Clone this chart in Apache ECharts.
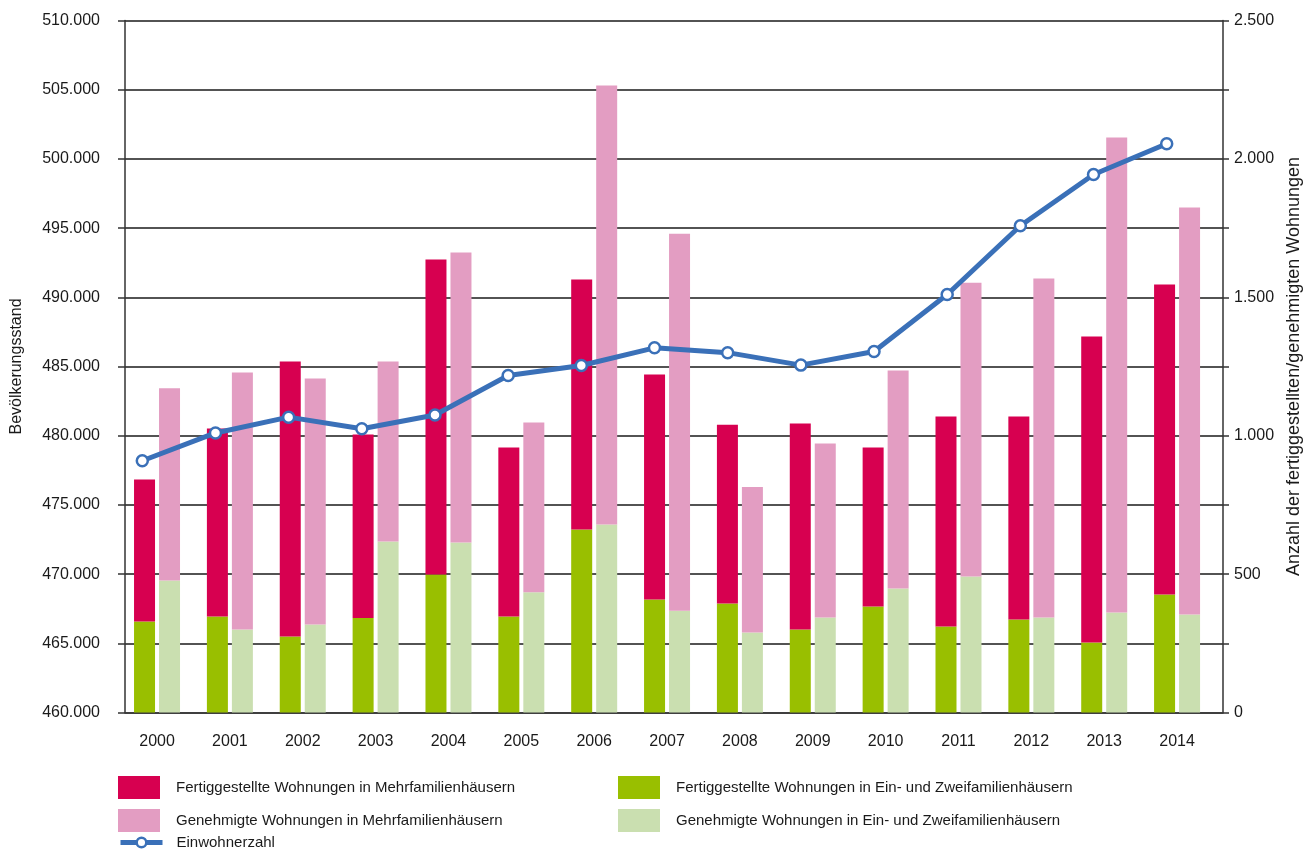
<!DOCTYPE html>
<html>
<head>
<meta charset="utf-8">
<script src="https://cdn.jsdelivr.net/npm/echarts@6/dist/echarts.min.js"></script>
<style>
  html, body { margin: 0; padding: 0; background: #fff; }
  #chart { width: 1306px; height: 857px; }
</style>
</head>
<body>
<div id="chart"></div>
<script>
// Jahre
const years = ['2000','2001','2002','2003','2004','2005','2006','2007','2008','2009','2010','2011','2012','2013','2014'];

// Fertiggestellte Wohnungen
const fertEZFH = [329, 347, 275, 341, 499, 347, 661, 408, 394, 300, 383, 311, 336, 253, 426];
const fertMFH  = [513, 679, 993, 663, 1138, 610, 903, 813, 646, 744, 574, 758, 733, 1105, 1120];

// Genehmigte Wohnungen
const genEZFH = [477, 300, 318, 618, 614, 434, 679, 368, 289, 343, 448, 491, 343, 361, 354];
const genMFH  = [694, 928, 889, 650, 1048, 614, 1586, 1362, 526, 629, 788, 1062, 1225, 1716, 1470];

// Bevölkerungsstand
const einwohner = [478190, 480200, 481340, 480500, 481500, 484350, 485070, 486350, 486000, 485100, 486080, 490200, 495170, 498870, 501090];

const FONT = '"Liberation Sans Narrow", "Liberation Sans", Arial, sans-serif';
const TXT = '#1a1a1a';
const BLUE = '#3a70b8';

const fmtLeft = v => (v / 1000).toFixed(0) + '.000';
const fmtRight = v => {
  if (v % 500 !== 0) return '';
  if (v < 1000) return String(v);
  const t = Math.floor(v / 1000), r = v % 1000;
  return t + '.' + String(r).padStart(3, '0');
};

const chart = echarts.init(document.getElementById('chart'), null, { renderer: 'canvas' });

const legendText = { fontFamily: FONT, fontSize: 15, color: TXT, padding: [0, 0, 0, 11] };
const barLegend = (left, top, name) => ({
  left, top, padding: 0, data: [{ name, icon: 'rect' }], itemWidth: 42, itemHeight: 23,
  selectedMode: false, textStyle: legendText
});

const gridBase = { top: 20.5, bottom: 144.5, containLabel: false, outerBoundsMode: 'none' };

chart.setOption({
  animation: false,
  backgroundColor: '#fff',
  grid: [
    Object.assign({ left: 125, right: 83 }, gridBase),     // Rahmen, Achsen, Gitter
    Object.assign({ left: 120.6, right: 92.5 }, gridBase), // Säulen
    Object.assign({ left: 142.3, right: 139.3 }, gridBase) // Linie
  ],
  legend: [
    barLegend(118, 776, 'Fertiggestellte Wohnungen in Mehrfamilienhäusern'),
    barLegend(618, 776, 'Fertiggestellte Wohnungen in Ein- und Zweifamilienhäusern'),
    barLegend(118, 809, 'Genehmigte Wohnungen in Mehrfamilienhäusern'),
    barLegend(618, 809, 'Genehmigte Wohnungen in Ein- und Zweifamilienhäusern'),
    { left: 118, top: 835, padding: 0, data: ['Einwohnerzahl'], itemWidth: 42, itemHeight: 12,
      selectedMode: false, textStyle: Object.assign({}, legendText, { padding: [3, 0, 0, 9] }),
      lineStyle: { width: 5, color: BLUE },
      itemStyle: { color: '#fff', borderColor: BLUE, borderWidth: 2.5 } }
  ],
  xAxis: [
    { gridIndex: 0, type: 'category', data: years, boundaryGap: true,
      axisLine: { show: true, lineStyle: { color: '#3a3a3a', width: 1.5 } },
      axisTick: { show: false }, axisLabel: { show: false } },
    { gridIndex: 1, type: 'category', data: years, boundaryGap: true,
      axisLine: { show: false }, axisTick: { show: false },
      axisLabel: { margin: 21, fontFamily: FONT, fontSize: 16, color: TXT } },
    { gridIndex: 2, type: 'category', data: years, boundaryGap: false, show: false }
  ],
  yAxis: [
    { gridIndex: 0, type: 'value', position: 'left', min: 460000, max: 510000, interval: 5000,
      name: 'Bevölkerungsstand', nameLocation: 'middle', nameGap: 100, nameRotate: 90,
      nameTextStyle: { fontFamily: FONT, fontSize: 16, color: TXT },
      axisLine: { show: true, lineStyle: { color: '#333', width: 1.5 } },
      axisTick: { show: true, inside: false, length: 7, lineStyle: { color: '#333', width: 1.5 } },
      axisLabel: { margin: 25, formatter: fmtLeft, fontFamily: FONT, fontSize: 16, color: TXT },
      splitLine: { show: true, lineStyle: { color: '#1a1a1a', width: 1.5 } } },
    { gridIndex: 0, type: 'value', position: 'right', min: 0, max: 2500, interval: 250,
      name: 'Anzahl der fertiggestellten/genehmigten Wohnungen', nameLocation: 'middle', nameGap: 60, nameRotate: 90,
      nameTextStyle: { fontFamily: FONT, fontSize: 18, color: TXT },
      axisLine: { show: true, lineStyle: { color: '#333', width: 1.5 } },
      axisTick: { show: true, inside: false, length: 6, lineStyle: { color: '#333', width: 1.5 } },
      axisLabel: { margin: 11, formatter: fmtRight, fontFamily: FONT, fontSize: 16, color: TXT },
      splitLine: { show: false } },
    { gridIndex: 1, type: 'value', min: 0, max: 2500, interval: 250, show: false },
    { gridIndex: 2, type: 'value', min: 460000, max: 510000, interval: 5000, show: false }
  ],
  series: [
    { name: 'Fertiggestellte Wohnungen in Ein- und Zweifamilienhäusern', type: 'bar', stack: 'fert',
      xAxisIndex: 1, yAxisIndex: 2, data: fertEZFH, barWidth: 21, barGap: '19%',
      itemStyle: { color: '#99bf00' } },
    { name: 'Fertiggestellte Wohnungen in Mehrfamilienhäusern', type: 'bar', stack: 'fert',
      xAxisIndex: 1, yAxisIndex: 2, data: fertMFH, barWidth: 21, barGap: '19%',
      itemStyle: { color: '#d70050' } },
    { name: 'Genehmigte Wohnungen in Ein- und Zweifamilienhäusern', type: 'bar', stack: 'gen',
      xAxisIndex: 1, yAxisIndex: 2, data: genEZFH, barWidth: 21, barGap: '19%',
      itemStyle: { color: '#cadfb0' } },
    { name: 'Genehmigte Wohnungen in Mehrfamilienhäusern', type: 'bar', stack: 'gen',
      xAxisIndex: 1, yAxisIndex: 2, data: genMFH, barWidth: 21, barGap: '19%',
      itemStyle: { color: '#e39dc2' } },
    { name: 'Einwohnerzahl', type: 'line', xAxisIndex: 2, yAxisIndex: 3, data: einwohner, z: 5,
      symbol: 'circle', symbolSize: 11, showSymbol: true,
      lineStyle: { color: BLUE, width: 5 },
      itemStyle: { color: '#ffffff', borderColor: BLUE, borderWidth: 2.5 } }
  ]
});
</script>
</body>
</html>
